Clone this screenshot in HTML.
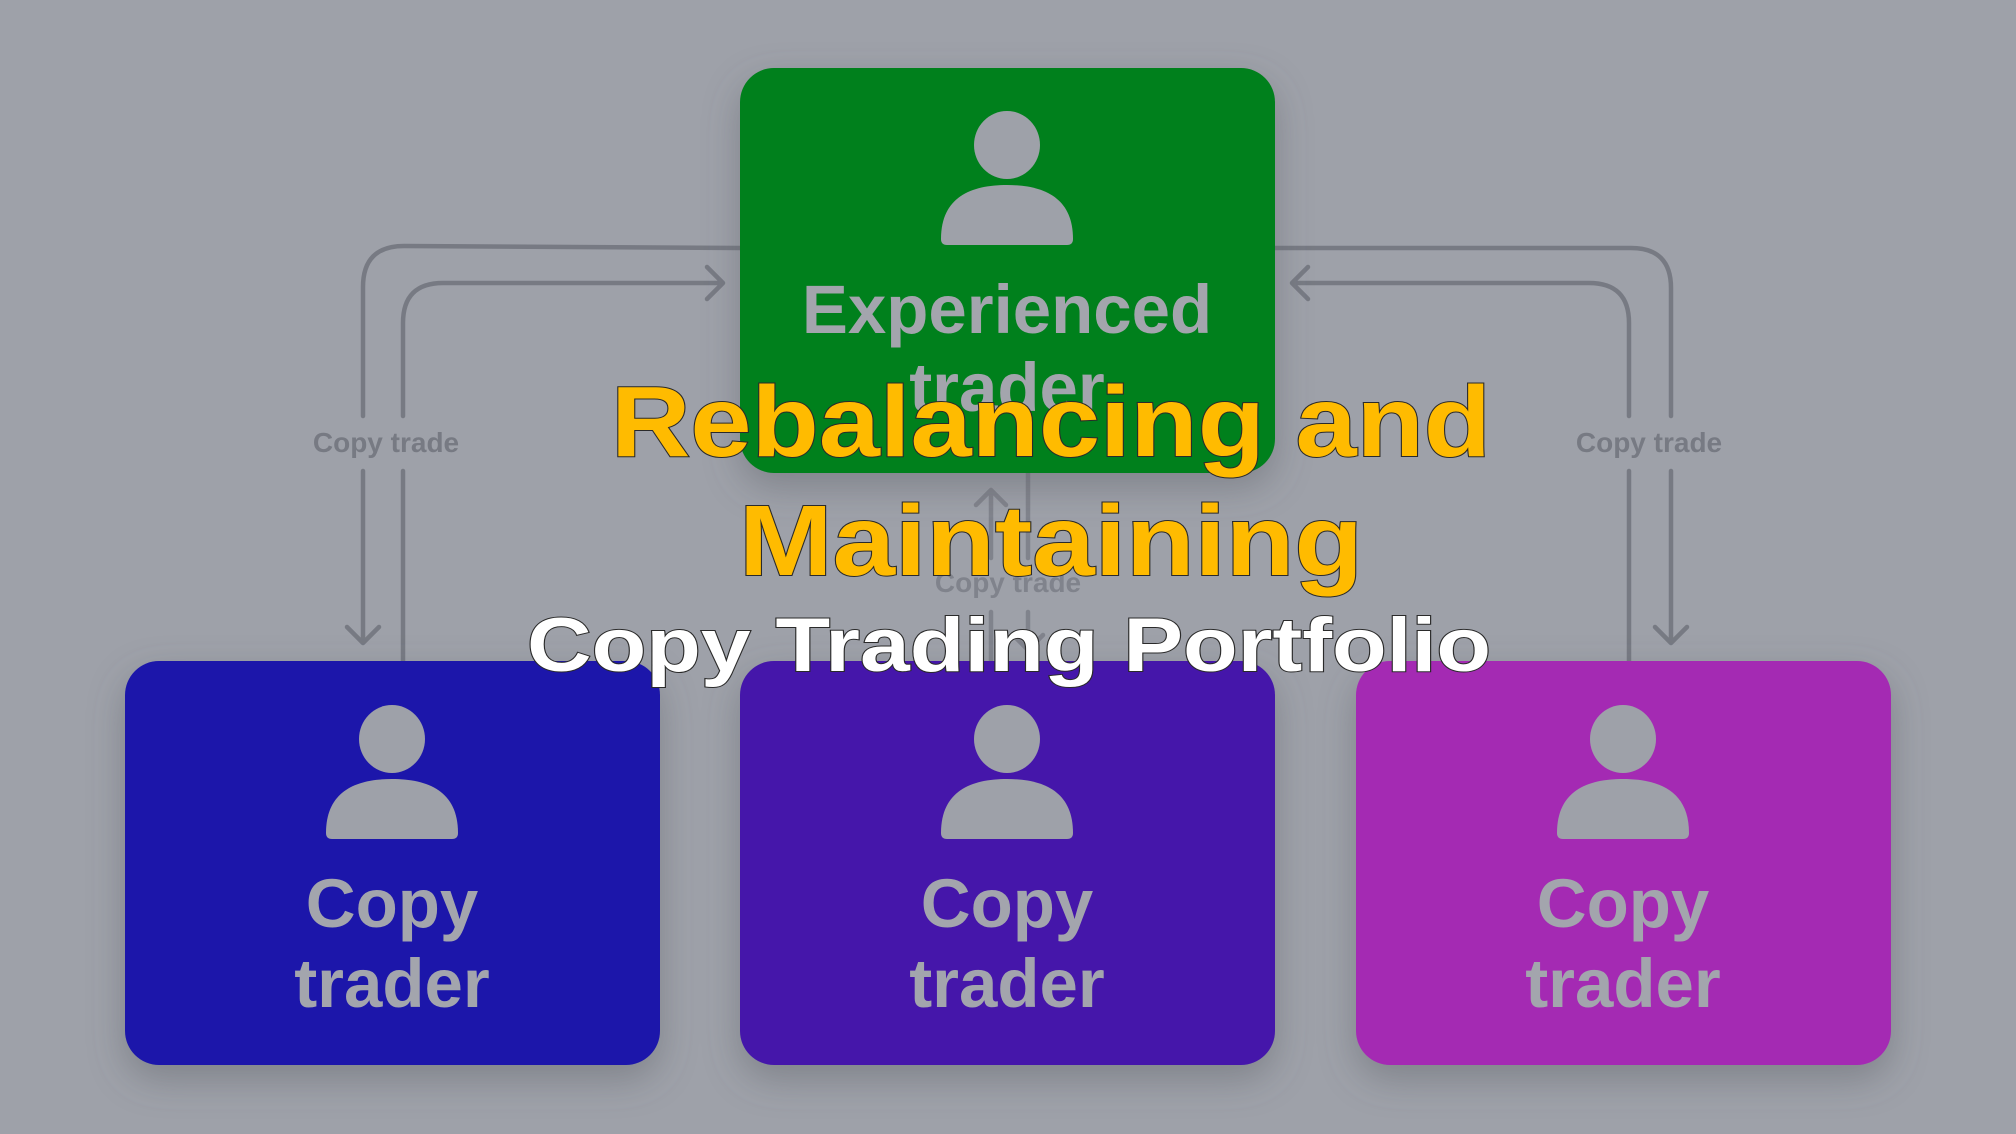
<!DOCTYPE html>
<html><head><meta charset="utf-8"><style>
html,body{margin:0;padding:0;background:#9ea1a9;}
svg{display:block}
</style></head><body>
<svg width="2016" height="1134" viewBox="0 0 2016 1134" xmlns="http://www.w3.org/2000/svg">
<defs>
<filter id="sh" x="-20%" y="-20%" width="140%" height="150%">
<feDropShadow dx="0" dy="14" stdDeviation="18" flood-color="#5a5d66" flood-opacity="0.45"/>
</filter>
<g id="person">
<ellipse cx="0" cy="0" rx="33" ry="34" fill="#9ea1a9"/>
<path d="M-66,94 C-66,52 -36,40 0,40 C36,40 66,52 66,94 Q66,100 60,100 L-60,100 Q-66,100 -66,94 Z" fill="#9ea1a9"/>
</g>
</defs>
<rect width="2016" height="1134" fill="#9ea1a9"/>

<g fill="none" stroke="#777a83" stroke-width="4.5" stroke-linecap="round" stroke-linejoin="round">
<path d="M363,416 L363,287 Q363,246 404,246 L740,248"/>
<path d="M363,471 L363,643 M347,627 L363,643 L379,627"/>
<path d="M403,661 L403,471 M403,416 L403,323 Q403,283 443,283 L723,283 M707,267 L723,283 L707,299"/>
<path d="M1275,248 L1631,248 Q1671,248 1671,288 L1671,416"/>
<path d="M1671,471 L1671,643 M1655,627 L1671,643 L1687,627"/>
<path d="M1629,661 L1629,471 M1629,416 L1629,323 Q1629,283 1589,283 L1292,283 M1308,267 L1292,283 L1308,299"/>
<g opacity="0.75">
<path d="M991,558 L991,490 M976,505 L991,490 L1006,505"/>
<path d="M1028,473 L1028,558"/>
<path d="M991,612 L991,661"/>
<path d="M1028,612 L1028,650 M1013,635 L1028,650 L1043,635"/>
</g>
</g>
<g font-family="Liberation Sans, sans-serif" font-weight="bold" fill="#777a83" text-anchor="middle">
<text x="386" y="452" font-size="28">Copy trade</text>
<text x="1649" y="452" font-size="28">Copy trade</text>
<text x="1008" y="592" font-size="28" opacity="0.75">Copy trade</text>
</g>

<rect x="740" y="68" width="535" height="405" rx="34" fill="#00801f" filter="url(#sh)"/>
<rect x="125" y="661" width="535" height="404" rx="34" fill="#1a18aa" filter="url(#sh)"/>
<rect x="740" y="661" width="535" height="404" rx="34" fill="#4418aa" filter="url(#sh)"/>
<rect x="1356" y="661" width="535" height="404" rx="34" fill="#a42ab3" filter="url(#sh)"/>

<use href="#person" x="1007" y="145"/>
<use href="#person" x="392" y="739"/>
<use href="#person" x="1007" y="739"/>
<use href="#person" x="1623" y="739"/>

<g font-family="Liberation Sans, sans-serif" font-weight="bold" fill="#a3a5ad" text-anchor="middle" font-size="69">
<text x="1007" y="333">Experienced</text>
<text x="1007" y="411">trader</text>
<text x="392" y="927">Copy</text>
<text x="392" y="1007">trader</text>
<text x="1007" y="927">Copy</text>
<text x="1007" y="1007">trader</text>
<text x="1623" y="927">Copy</text>
<text x="1623" y="1007">trader</text>
</g>

<g font-family="Liberation Sans, sans-serif" font-weight="bold" paint-order="stroke" stroke="#2a2a2a" stroke-width="2">
<text x="611" y="456" font-size="100" fill="#ffbb00" textLength="880" lengthAdjust="spacingAndGlyphs">Rebalancing and</text>
<text x="739" y="575" font-size="100" fill="#ffbb00" textLength="624" lengthAdjust="spacingAndGlyphs">Maintaining</text>
<text x="527" y="671" font-size="76" fill="#ffffff" textLength="964" lengthAdjust="spacingAndGlyphs">Copy Trading Portfolio</text>
</g>
</svg>
</body></html>
